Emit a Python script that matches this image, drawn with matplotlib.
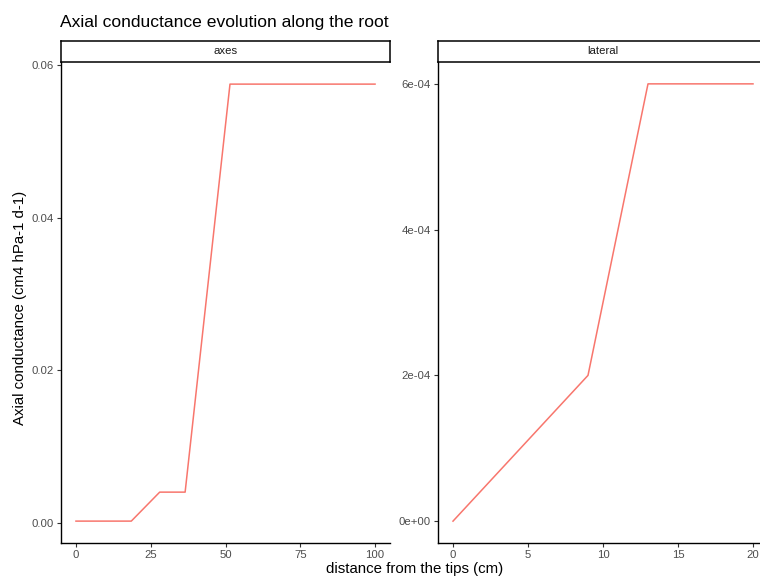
import matplotlib
matplotlib.use("Agg")
import matplotlib.pyplot as plt
from matplotlib.ticker import FuncFormatter

plt.rcParams['font.family'] = ['Liberation Sans', 'DejaVu Sans']

# axial conductance along the root, one series per root type
axes_dist = [0, 18.5, 28, 36.5, 51.5, 100]
axes_kx = [0.0002, 0.0002, 0.004, 0.004, 0.0575, 0.0575]

lat_dist = [0, 9, 13, 20]
lat_kx = [0.0, 2e-4, 6e-4, 6e-4]

facets = ['axes', 'lateral']
line_col = '#F8766D'

W, H = 760, 577
fig = plt.figure(figsize=(W / 100, H / 100), dpi=100)


def px_box(x0, y0, x1, y1):
    # pixel box (top-left origin) -> figure fraction
    return [x0 / W, (H - y1) / H, (x1 - x0) / W, (y1 - y0) / H]


def make_panel(x0, x1, name, xs, ys, xlim, ylim, xticks, yticks, yfmt):
    ax = fig.add_axes(px_box(x0, 62, x1, 543))
    ax.plot(xs, ys, color=line_col, lw=1.1)
    ax.set_xlim(*xlim)
    ax.set_ylim(*ylim)
    ax.set_xticks(xticks)
    ax.set_yticks(yticks)
    ax.yaxis.set_major_formatter(FuncFormatter(yfmt))
    for s in ['top', 'right']:
        ax.spines[s].set_visible(False)
    for s in ['left', 'bottom']:
        ax.spines[s].set_linewidth(1.0)
        ax.spines[s].set_color('black')
    ax.tick_params(length=3, width=0.8, color='#333333', labelcolor='#4D4D4D',
                   labelsize=8.2, pad=2)
    # facet strip
    st = fig.add_axes(px_box(x0, 41, x1, 62))
    st.set_xticks([])
    st.set_yticks([])
    for s in st.spines.values():
        s.set_linewidth(1.1)
        s.set_color('black')
    st.text(0.5, 0.5, name, ha='center', va='center', fontsize=8.2, color='#1A1A1A',
            transform=st.transAxes)
    return ax


make_panel(61, 390, facets[0], axes_dist, axes_kx, (-5, 105), (-0.00267, 0.0604),
           [0, 25, 50, 75, 100], [0, 0.02, 0.04, 0.06], lambda v, p: f"{v:.2f}")


def sci(v, p):
    if abs(v) < 1e-12:
        return "0e+00"
    m, e = f"{v:.0e}".split('e')
    return f"{m}e{e}"


make_panel(438, 768, facets[1], lat_dist, lat_kx, (-1, 21), (-3e-5, 6.3e-4),
           [0, 5, 10, 15, 20], [0, 2e-4, 4e-4, 6e-4], sci)

fig.text(60 / W, 1 - 22 / H, 'Axial conductance evolution along the root',
         fontsize=12.6, ha='left', va='center')
fig.text(414.5 / W, 1 - 569.5 / H, 'distance from the tips (cm)', fontsize=10.8,
         ha='center', va='center')
fig.text(20.5 / W, 1 - 308 / H, 'Axial conductance (cm4 hPa-1 d-1)', fontsize=10.8,
         rotation=90, ha='center', va='center')

fig.savefig('out.png', dpi=100)
